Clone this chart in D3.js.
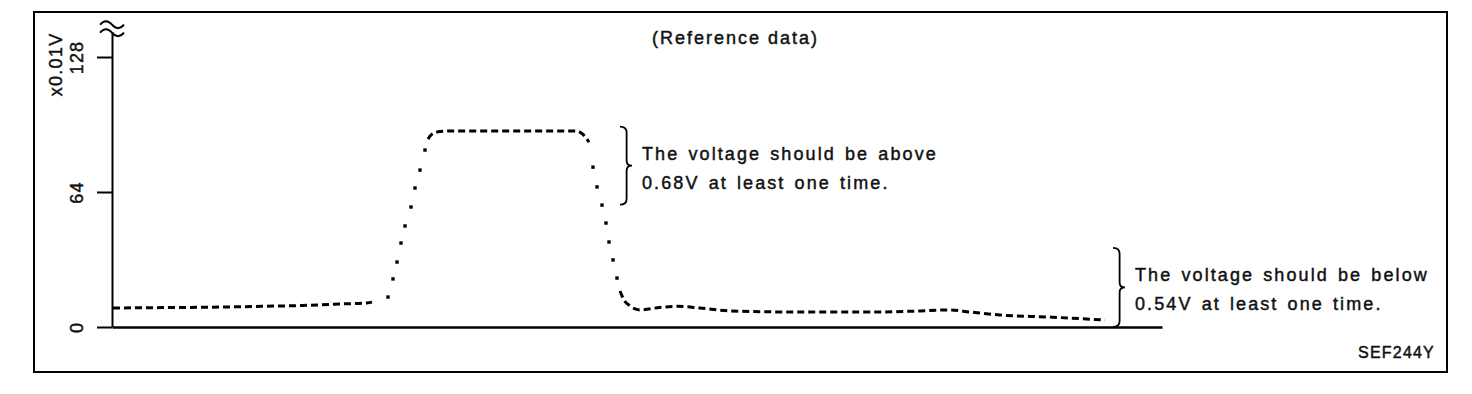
<!DOCTYPE html>
<html>
<head>
<meta charset="utf-8">
<script src="https://cdn.jsdelivr.net/npm/d3@7"></script>
<style>
  body { margin: 0; background: #fff; }
  text { font-family: "Liberation Sans", Arial, sans-serif; fill: #111; stroke: #111; stroke-width: 0.45px; }
</style>
</head>
<body>
<svg id="chart" width="1472" height="394"></svg>
<script>
/*
 * Sensor voltage trace (reference data), drawn with d3.
 * Time axis is unitless, voltage in x0.01V.
 */

var yTicks = [0, 64, 128];
var yUnit = 'x0.01V';
var title = '(Reference data)';
var figCode = 'SEF244Y';

// idle part before the rise (dashed)
var idleTime = [0.1, 5, 10, 15, 19, 22.8, 25.5, 26];
var idleVolt = [9.0, 9.2, 9.4, 9.8, 10.2, 10.9, 11.4, 11.8];
// rise, sampled dots
var riseTime = [27.6, 28.1, 28.5, 28.9, 29.3, 29.9, 30.3, 30.8, 31.3];
var riseVolt = [14.2, 22.8, 30.8, 39.8, 47.9, 56.9, 65.9, 74.4, 83.9];
// high plateau (dashed)
var highTime = [31.6, 31.9, 32.5, 33.8, 40, 46.5, 47.1, 47.7];
var highVolt = [89.1, 91.0, 92.4, 92.9, 92.9, 92.9, 91.3, 87.6];
// fall, sampled dots
var fallTime = [48.1, 48.5, 49.0, 49.4, 49.7, 50.1, 50.5];
var fallVolt = [75.8, 66.4, 57.8, 49.3, 40.3, 31.8, 23.2];
// low tail (dashed)
var tailTime = [50.8, 51.2, 51.8, 52.8, 54.8, 56.5, 58.8, 61.8, 68.8, 76.1, 80.8, 83.8, 85.8, 88.8, 93.8, 99.3];
var tailVolt = [17.1, 12.8, 10.0, 8.1, 9.3, 9.8, 9.0, 7.6, 7.1, 7.1, 7.6, 8.1, 7.1, 5.7, 4.7, 3.3];

// notes with a brace: time of brace, voltage range covered
var noteTime = [50.8, 100.1];
var noteHigh = [95, 37.5];
var noteLow = [58, 0];
var noteLines = [
  ['The voltage should be above', '0.68V at least one time.'],
  ['The voltage should be below', '0.54V at least one time.']
];

function zipPoints(ts, vs) {
  /* Pair up two arrays into a list of {t, v}. */
  return ts.map(function(t, i) { return {t: t, v: vs[i]}; });
}

function bracePath(x0, yTop, yBot, w) {
  /* A right-pointing curly brace from yTop to yBot. */
  var xm = x0 + w * 0.55;
  var yMid = (yTop + yBot) / 2;
  return 'M' + x0 + ',' + yTop +
    'Q' + xm + ',' + yTop + ' ' + xm + ',' + (yTop + 6) +
    'L' + xm + ',' + (yMid - 5) +
    'Q' + xm + ',' + yMid + ' ' + (x0 + w) + ',' + yMid +
    'Q' + xm + ',' + yMid + ' ' + xm + ',' + (yMid + 5) +
    'L' + xm + ',' + (yBot - 6) +
    'Q' + xm + ',' + yBot + ' ' + x0 + ',' + yBot;
}

function render() {
  var svg = d3.select('#chart');

  var x = d3.scaleLinear().domain([0, 105]).range([112, 1162]);
  var y = d3.scaleLinear().domain([0, 140]).range([327, 31.7]);

  // outer frame
  svg.append('rect')
    .attr('x', 34).attr('y', 12)
    .attr('width', 1413).attr('height', 360)
    .attr('fill', 'none').attr('stroke', '#000').attr('stroke-width', 2);

  // Y axis
  var yAxis = svg.append('g')
    .attr('transform', 'translate(' + x(0) + ',0)')
    .call(d3.axisLeft(y).tickValues(yTicks).tickSize(15).tickSizeOuter(0));
  yAxis.select('.domain').attr('stroke', '#000').attr('stroke-width', 2);
  yAxis.selectAll('.tick line').attr('stroke', '#000').attr('stroke-width', 2);
  yAxis.selectAll('.tick text')
    .attr('transform', 'rotate(-90)')
    .attr('text-anchor', 'middle')
    .attr('x', 0).attr('y', -35).attr('dy', '0.35em')
    .attr('font-size', 18)
    .attr('letter-spacing', 1.2)
    .attr('font-family', null)
    .attr('fill', '#111');

  svg.append('text')
    .attr('transform', 'translate(56,' + y(124.5) + ') rotate(-90)')
    .attr('text-anchor', 'middle')
    .attr('dy', '0.35em')
    .attr('font-size', 18)
    .attr('letter-spacing', 1.3)
    .text(yUnit);

  // axis break mark at the top
  var bx = x(0) - 12, by = y(140) - 9;
  [0, 8].forEach(function(off) {
    svg.append('path')
      .attr('d', 'M' + bx + ',' + (by + off + 2) + 'q6,-7 12,0t12,0')
      .attr('fill', 'none').attr('stroke', '#000').attr('stroke-width', 2);
  });

  // X axis, just the base line
  var xAxis = svg.append('g')
    .attr('transform', 'translate(0,' + y(0) + ')')
    .call(d3.axisBottom(x).tickValues([]).tickSizeOuter(0));
  xAxis.select('.domain').attr('stroke', '#000').attr('stroke-width', 2.5);

  var line = d3.line()
    .x(function(d) { return x(d.t); })
    .y(function(d) { return y(d.v); })
    .curve(d3.curveMonotoneX);

  // dashed parts
  [zipPoints(idleTime, idleVolt), zipPoints(highTime, highVolt), zipPoints(tailTime, tailVolt)]
    .forEach(function(pts) {
      svg.append('path')
        .datum(pts)
        .attr('d', line)
        .attr('fill', 'none')
        .attr('stroke', '#000')
        .attr('stroke-width', 3)
        .attr('stroke-dasharray', '7,4');
    });

  // dotted parts: one dot per sample
  svg.append('g').selectAll('rect')
    .data(zipPoints(riseTime, riseVolt).concat(zipPoints(fallTime, fallVolt)))
    .enter()
    .append('rect')
      .attr('x', function(d) { return x(d.t) - 1.7; })
      .attr('y', function(d) { return y(d.v) - 1.7; })
      .attr('width', 3.4)
      .attr('height', 3.4)
      .attr('fill', '#000');

  // braces and their notes
  noteTime.forEach(function(t, i) {
    var x0 = x(t);
    var yTop = y(noteHigh[i]);
    var yBot = y(noteLow[i]);
    svg.append('path')
      .attr('d', bracePath(x0, yTop, yBot, 12))
      .attr('fill', 'none').attr('stroke', '#000').attr('stroke-width', 1.8);
    var base1 = yTop + 33;
    svg.append('text')
      .attr('x', x0 + 22)
      .attr('y', base1)
      .attr('font-size', 18)
      .attr('letter-spacing', 2.1)
      .attr('word-spacing', 2)
      .text(noteLines[i][0]);
    svg.append('text')
      .attr('x', x0 + 22)
      .attr('y', base1 + 29)
      .attr('font-size', 18)
      .attr('letter-spacing', 2.1)
      .attr('word-spacing', 2)
      .text(noteLines[i][1]);
  });

  svg.append('text')
    .attr('x', 652).attr('y', 44)
    .attr('font-size', 18)
    .attr('letter-spacing', 2)
    .text(title);

  svg.append('text')
    .attr('x', 1435).attr('y', 358)
    .attr('text-anchor', 'end')
    .attr('font-size', 16)
    .attr('letter-spacing', 1.2)
    .text(figCode);
}

render();
</script>
</body>
</html>
